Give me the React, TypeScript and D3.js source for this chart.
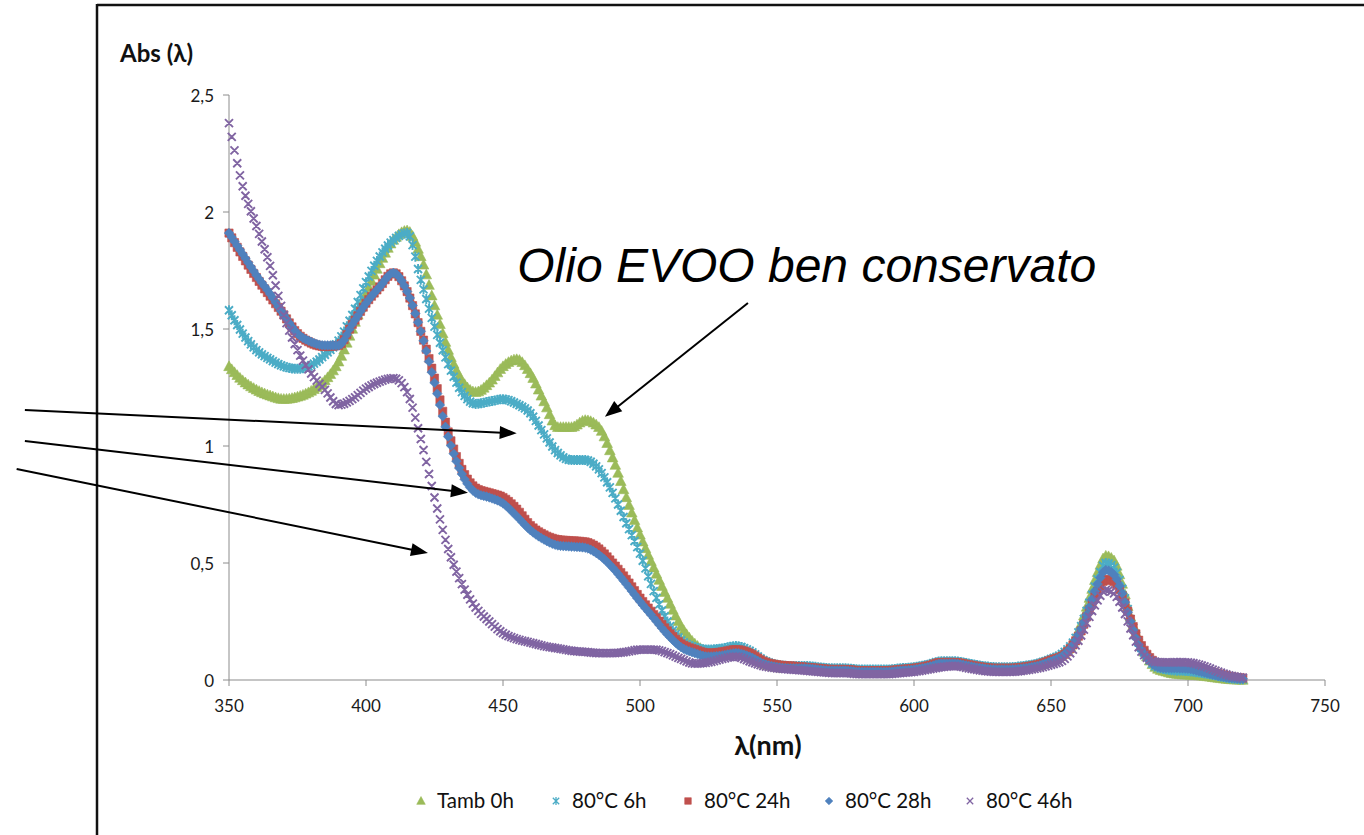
import React, { useMemo } from 'react';
import * as d3 from 'd3';

// ---------- data ----------
const wavelengths = [
  350, 355, 360, 365, 370, 375, 380, 385, 390, 395,
  400, 405, 410, 415, 420, 425, 430, 435, 440, 445,
  450, 455, 460, 465, 470, 475, 480, 485, 490, 495,
  500, 505, 510, 515, 520, 525, 530, 535, 540, 545,
  550, 555, 560, 565, 570, 575, 580, 585, 590, 595,
  600, 605, 610, 615, 620, 625, 630, 635, 640, 645,
  650,
  655, 658, 661, 664, 667, 670, 673, 676, 679, 682, 685, 688, 692, 696, 700, 705, 710, 715, 720,
];

const tamb0h = [
  1.34, 1.28, 1.24, 1.215, 1.2, 1.21, 1.235, 1.28, 1.36, 1.5,
  1.65, 1.78, 1.88, 1.92, 1.81, 1.6, 1.41, 1.28, 1.23, 1.27,
  1.34, 1.37, 1.31, 1.19, 1.08, 1.08, 1.11, 1.08, 0.95, 0.78,
  0.62, 0.48, 0.35, 0.23, 0.155, 0.12, 0.115, 0.12, 0.1, 0.07,
  0.055, 0.05, 0.05, 0.045, 0.04, 0.04, 0.035, 0.035, 0.035, 0.04,
  0.045, 0.055, 0.07, 0.07, 0.06, 0.05, 0.045, 0.045, 0.05, 0.06,
  0.08,
  0.12, 0.16, 0.24, 0.35, 0.46, 0.53, 0.51, 0.41, 0.27, 0.17, 0.1, 0.055, 0.035, 0.025, 0.022, 0.018, 0.01, 0.003, 0.0,
];

const c80_6h = [
  1.58, 1.48, 1.41, 1.37, 1.34, 1.33, 1.345, 1.39, 1.45, 1.56,
  1.7, 1.81, 1.88, 1.91, 1.71, 1.51, 1.35, 1.23, 1.18, 1.19,
  1.2, 1.18, 1.14, 1.05, 0.97, 0.94, 0.94, 0.9, 0.8, 0.67,
  0.54, 0.38, 0.25, 0.17, 0.14, 0.13, 0.135, 0.145, 0.125, 0.085,
  0.065, 0.06, 0.06, 0.055, 0.05, 0.05, 0.045, 0.045, 0.045, 0.05,
  0.055, 0.065, 0.08, 0.08, 0.07, 0.06, 0.055, 0.055, 0.06, 0.07,
  0.09,
  0.12, 0.16, 0.23, 0.33, 0.43, 0.5, 0.48, 0.39, 0.26, 0.16, 0.1, 0.06, 0.045, 0.04, 0.038, 0.03, 0.02, 0.008, 0.003,
];

const c80_24h = [
  1.91, 1.81, 1.72, 1.64, 1.56, 1.48, 1.44, 1.425, 1.43, 1.52,
  1.61, 1.68, 1.74, 1.66, 1.49, 1.29, 1.06, 0.9, 0.82, 0.8,
  0.78, 0.73, 0.66, 0.62, 0.6, 0.595, 0.59, 0.56, 0.5, 0.43,
  0.35, 0.28, 0.21, 0.155, 0.13, 0.115, 0.12, 0.13, 0.115, 0.08,
  0.065, 0.06, 0.055, 0.05, 0.045, 0.045, 0.04, 0.04, 0.04, 0.045,
  0.05, 0.06, 0.075, 0.075, 0.065, 0.055, 0.05, 0.05, 0.055, 0.065,
  0.085,
  0.11, 0.15, 0.21, 0.3, 0.38, 0.43, 0.42, 0.36, 0.26, 0.17, 0.11, 0.075, 0.06, 0.06, 0.058, 0.045, 0.03, 0.015, 0.008,
];

const c80_28h = [
  1.91, 1.82, 1.73, 1.65, 1.56, 1.48, 1.445, 1.43, 1.43, 1.52,
  1.61, 1.68, 1.74, 1.66, 1.49, 1.27, 1.04, 0.88, 0.8, 0.78,
  0.755, 0.7, 0.64, 0.6, 0.575, 0.57, 0.565, 0.535, 0.48, 0.41,
  0.335, 0.265, 0.195, 0.14, 0.115, 0.1, 0.105, 0.115, 0.1, 0.07,
  0.055, 0.05, 0.05, 0.045, 0.04, 0.04, 0.035, 0.035, 0.035, 0.04,
  0.045, 0.055, 0.07, 0.07, 0.06, 0.05, 0.045, 0.045, 0.05, 0.06,
  0.08,
  0.11, 0.15, 0.22, 0.31, 0.41, 0.47, 0.45, 0.37, 0.25, 0.15, 0.095, 0.06, 0.05, 0.05, 0.048, 0.035, 0.02, 0.01, 0.005,
];

const c80_46h = [
  2.38, 2.11, 1.94, 1.77, 1.56, 1.41, 1.31, 1.24, 1.175, 1.2,
  1.245, 1.275, 1.29, 1.23, 1.03, 0.78, 0.56, 0.41, 0.31, 0.25,
  0.2, 0.175, 0.16, 0.145, 0.135, 0.125, 0.12, 0.115, 0.115, 0.12,
  0.13, 0.13, 0.115, 0.09, 0.07, 0.075, 0.09, 0.1, 0.08, 0.06,
  0.05, 0.045, 0.04, 0.035, 0.03, 0.03, 0.025, 0.025, 0.025, 0.03,
  0.035, 0.045, 0.055, 0.06, 0.05, 0.04, 0.035, 0.035, 0.04, 0.05,
  0.065,
  0.09, 0.13, 0.19, 0.27, 0.34, 0.385, 0.37, 0.31, 0.22, 0.14, 0.095, 0.078, 0.075, 0.076, 0.075, 0.062, 0.04, 0.02, 0.01,
];

const seriesNames = ['Tamb 0h', '80°C 6h', '80°C 24h', '80°C 28h', '80°C 46h'];
const seriesValues = [tamb0h, c80_6h, c80_24h, c80_28h, c80_46h];
const xTicks = [350, 400, 450, 500, 550, 600, 650, 700, 750];
const yTicks = [0, 0.5, 1, 1.5, 2, 2.5];
const yTickLabels = ['0', '0,5', '1', '1,5', '2', '2,5'];

// annotation arrows, in data units (nm, Abs)
const annotationText = 'Olio EVOO ben conservato';
const annotationTextAt = [455.2, 1.7];
const arrows = [
  { from: [539.4, 1.611], to: [487.2, 1.125] },
  { from: [275.5, 1.154], to: [455.0, 1.054] },
  { from: [275.5, 1.021], to: [437.2, 0.8] },
  { from: [272.5, 0.902], to: [422.6, 0.543] },
];

// ---------- styles ----------
const W = 1364;
const H = 835;
const colors = ['#9BBB59', '#4BACC6', '#C0504D', '#4F81BD', '#8064A2'];
const markerKinds = ['triangle', 'star', 'square', 'diamond', 'x'];
const font = 'Lato, "Open Sans", sans-serif';

function markerPath(kind: string, x: number, y: number, k = 1): string {
  switch (kind) {
    case 'triangle': {
      const h = 5.6 * k;
      return `M${x},${y - h}L${x + h * 0.95},${y + h * 0.75}L${x - h * 0.95},${y + h * 0.75}Z`;
    }
    case 'square': {
      const s = 4.1 * k;
      return `M${x - s},${y - s}h${2 * s}v${2 * s}h${-2 * s}Z`;
    }
    case 'diamond': {
      const s = 4.8 * k;
      return `M${x},${y - s}L${x + s},${y}L${x},${y + s}L${x - s},${y}Z`;
    }
    case 'x': {
      const s = 4.0 * k;
      return `M${x - s},${y - s}L${x + s},${y + s}M${x - s},${y + s}L${x + s},${y - s}`;
    }
    case 'star':
    default: {
      const s = 4.0 * k;
      return `M${x - s},${y - s}L${x + s},${y + s}M${x - s},${y + s}L${x + s},${y - s}M${x},${y - s * 1.25}L${x},${y + s * 1.25}`;
    }
  }
}

// capture the monotone curve produced by d3.line as dense points
function denseCurve(pts: [number, number][]): [number, number][] {
  const out: [number, number][] = [];
  let cx = 0;
  let cy = 0;
  const ctx: any = {
    moveTo(x: number, y: number) { out.push([x, y]); cx = x; cy = y; },
    lineTo(x: number, y: number) { out.push([x, y]); cx = x; cy = y; },
    bezierCurveTo(x1: number, y1: number, x2: number, y2: number, x: number, y: number) {
      const n = 24;
      for (let i = 1; i <= n; i++) {
        const t = i / n;
        const mt = 1 - t;
        out.push([
          mt * mt * mt * cx + 3 * mt * mt * t * x1 + 3 * mt * t * t * x2 + t * t * t * x,
          mt * mt * mt * cy + 3 * mt * mt * t * y1 + 3 * mt * t * t * y2 + t * t * t * y,
        ]);
      }
      cx = x; cy = y;
    },
    closePath() {},
  };
  d3.line().curve(d3.curveMonotoneX).context(ctx)(pts);
  return out;
}

export default function App() {
  const x = d3.scaleLinear().domain([350, 750]).range([229, 1325]);
  const y = d3.scaleLinear().domain([0, 2.5]).range([680, 95]);

  const markerPaths = useMemo(() => {
    const bis = d3.bisector((d: [number, number]) => d[0]).left;
    return seriesValues.map((vals, si) => {
      const pts = wavelengths.map((w, i) => [x(w), y(vals[i])] as [number, number]);
      const dense = denseCurve(pts);
      const parts: string[] = [];
      for (let nm = 350; nm <= 720; nm += 1) {
        const px = x(nm);
        let j = bis(dense, px);
        if (j <= 0) j = 1;
        if (j >= dense.length) j = dense.length - 1;
        const a = dense[j - 1];
        const b = dense[j];
        const t = b[0] === a[0] ? 0 : (px - a[0]) / (b[0] - a[0]);
        const py = a[1] + (b[1] - a[1]) * t;
        parts.push(markerPath(markerKinds[si], px, py));
      }
      return parts.join('');
    });
  }, []);

  const arrowShapes = arrows.map((a) => {
    const x1 = x(a.from[0]);
    const y1 = y(a.from[1]);
    const x2 = x(a.to[0]);
    const y2 = y(a.to[1]);
    const dx = x2 - x1;
    const dy = y2 - y1;
    const len = Math.hypot(dx, dy);
    const ux = dx / len;
    const uy = dy / len;
    const L = 17;
    const hw = 6.5;
    const bx = x2 - ux * L;
    const by = y2 - uy * L;
    return {
      line: `M${x1},${y1}L${bx + ux * 2},${by + uy * 2}`,
      head: `M${x2},${y2}L${bx - uy * hw},${by + ux * hw}L${bx + uy * hw},${by - ux * hw}Z`,
    };
  });

  const legendX = [421, 556, 688, 829, 970];
  const legendY = 801;

  return (
    <svg
      width={W}
      height={H}
      style={{ position: 'fixed', left: 0, top: 0, background: '#fff' }}
      xmlns="http://www.w3.org/2000/svg"
    >
      <rect x={0} y={0} width={W} height={H} fill="#fff" />
      {/* chart frame */}
      <line x1={97} y1={5} x2={W} y2={5} stroke="#111" strokeWidth={2.5} />
      <line x1={97} y1={4} x2={97} y2={H} stroke="#111" strokeWidth={2.5} />

      {/* y axis */}
      <line x1={x(350)} y1={y(2.5)} x2={x(350)} y2={y(0)} stroke="#8c8c8c" strokeWidth={1} />
      {yTicks.map((t, i) => (
        <g key={'yt' + t}>
          <line x1={x(350) - 6} x2={x(350)} y1={y(t)} y2={y(t)} stroke="#8c8c8c" strokeWidth={1} />
          <text
            x={x(350) - 15}
            y={y(t)}
            textAnchor="end"
            dominantBaseline="central"
            fontFamily={font}
            fontSize={17}
            fill="#1a1a1a"
          >
            {yTickLabels[i]}
          </text>
        </g>
      ))}

      {/* x axis */}
      <line x1={x(350)} y1={y(0)} x2={x(750)} y2={y(0)} stroke="#8c8c8c" strokeWidth={1.2} />
      {xTicks.map((t) => (
        <g key={'xt' + t}>
          <line x1={x(t)} x2={x(t)} y1={y(0)} y2={y(0) + 6} stroke="#8c8c8c" strokeWidth={1} />
          <text x={x(t)} y={y(0) + 32} textAnchor="middle" fontFamily={font} fontSize={17} fill="#1a1a1a">
            {t}
          </text>
        </g>
      ))}

      {/* series */}
      {markerPaths.map((d, i) => {
        const kind = markerKinds[i];
        const stroked = kind === 'x' || kind === 'star';
        return (
          <path
            key={'s' + i}
            d={d}
            fill={stroked ? 'none' : colors[i]}
            stroke={colors[i]}
            strokeWidth={stroked ? 1.9 : 0.6}
          />
        );
      })}

      {/* titles */}
      <text x={120} y={62} fontFamily={font} fontWeight="bold" fontSize={24} fill="#111">
        Abs (λ)
      </text>
      <text x={768} y={755} textAnchor="middle" fontFamily={font} fontWeight="bold" fontSize={27} fill="#111">
        λ(nm)
      </text>

      {/* annotation */}
      <text
        x={x(annotationTextAt[0])}
        y={y(annotationTextAt[1])}
        fontFamily='"Liberation Sans", Arial, sans-serif'
        fontStyle="italic"
        fontSize={48}
        fill="#000"
      >
        {annotationText}
      </text>
      {arrowShapes.map((a, i) => (
        <g key={'ar' + i}>
          <path d={a.line} stroke="#000" strokeWidth={2} fill="none" />
          <path d={a.head} fill="#000" />
        </g>
      ))}

      {/* legend */}
      {seriesNames.map((name, i) => {
        const kind = markerKinds[i];
        const stroked = kind === 'x' || kind === 'star';
        return (
          <g key={'lg' + i}>
            <path
              d={markerPath(kind, legendX[i], legendY, 0.8)}
              fill={stroked ? 'none' : colors[i]}
              stroke={colors[i]}
              strokeWidth={stroked ? 1.3 : 0.6}
            />
            <text x={legendX[i] + 16} y={legendY + 7} fontFamily={font} fontSize={20.5} fill="#111">
              {name}
            </text>
          </g>
        );
      })}
    </svg>
  );
}
